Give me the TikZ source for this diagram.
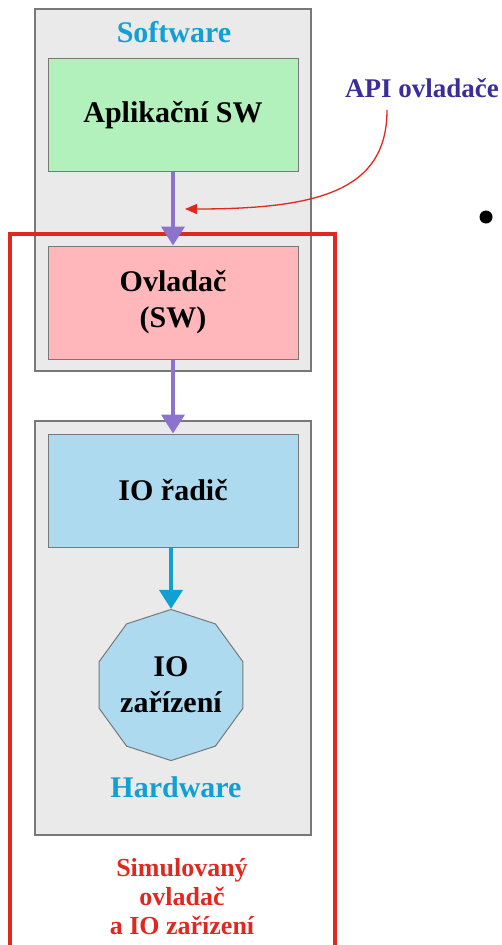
\documentclass[tikz,border=0pt]{standalone}
\usepackage{fontspec}
\setmainfont{Liberation Serif}
\usetikzlibrary{positioning, shapes.geometric, arrows.meta}

\definecolor{layergray}{RGB}{234,234,234}
\definecolor{edgegray}{RGB}{120,120,120}
\definecolor{appgreen}{RGB}{178,240,188}
\definecolor{drvpink}{RGB}{255,183,188}
\definecolor{hwblue}{RGB}{174,218,240}
\definecolor{labelblue}{RGB}{18,160,212}
\definecolor{flowpurple}{RGB}{140,115,205}
\definecolor{apipurple}{RGB}{60,45,155}
\definecolor{simred}{RGB}{225,40,30}

\begin{document}
\begin{tikzpicture}[x=1pt, y=-1pt,
    every node/.style={font=\bfseries\fontsize{30}{36}\selectfont},
    layer/.style={draw=edgegray, fill=layergray, line width=1.2pt, minimum width=276, inner sep=0},
    block/.style={draw=edgegray, line width=1pt, minimum width=250, minimum height=113, align=center, inner sep=0},
    flow/.style={-{Triangle[length=19pt, width=23pt]}, line width=4pt, flowpurple}]
        \useasboundingbox (0,0) rectangle (501,945);

        % the two layers and the simulated part
        \node[layer, minimum height=362] (sw) at (173,190) {};
        \node[layer, minimum height=414] (hw) at (173,628) {};
        \node[draw=simred, line width=3.5pt, minimum width=325, minimum height=716, inner sep=0] (sim) at (172.5,592) {};

        \node[text=labelblue] (swlabel) at (174,32) {Software};
        \node[text=labelblue] (hwlabel) at (176,787) {Hardware};

        \node[block, fill=appgreen] (app) at (173,115) {Aplikační SW};
        \node[block, fill=drvpink] (drv) at (173,302.5) {Ovladač\\(SW)};
        \node[block, fill=hwblue] (ctrl) at (173,490.5) {IO řadič};
        \node[regular polygon, regular polygon sides=10, shape border rotate=18, draw=edgegray, line width=1pt,
              fill=hwblue, minimum size=150, inner sep=0, align=center] (dev) at (171,685) {IO\\zařízení};

        \node[text=simred, align=center, font=\bfseries\fontsize{26}{29}\selectfont] (simlabel) at (182,897)
            {Simulovaný\\ovladač\\a IO zařízení};

        \node[text=apipurple, font=\bfseries\fontsize{27}{32}\selectfont] (api) at (422,88) {API ovladače};
        \node[circle, fill=black, minimum size=13, inner sep=0] (bullet) at (486,217) {};

        \draw[flow] (app) -- (drv);
        \draw[flow] (drv) -- (ctrl);
        \draw[flow, labelblue] (ctrl.south -| dev.north) -- (dev.north);

        \coordinate (apifoot) at (387,110);
        \coordinate (apitip) at (185,209);
        \draw[-{Triangle[length=12pt, width=10pt]}, simred, line width=1.3pt] (apifoot) .. controls (387,190) and (320,209) .. (apitip);
    \end{tikzpicture}
\end{document}
